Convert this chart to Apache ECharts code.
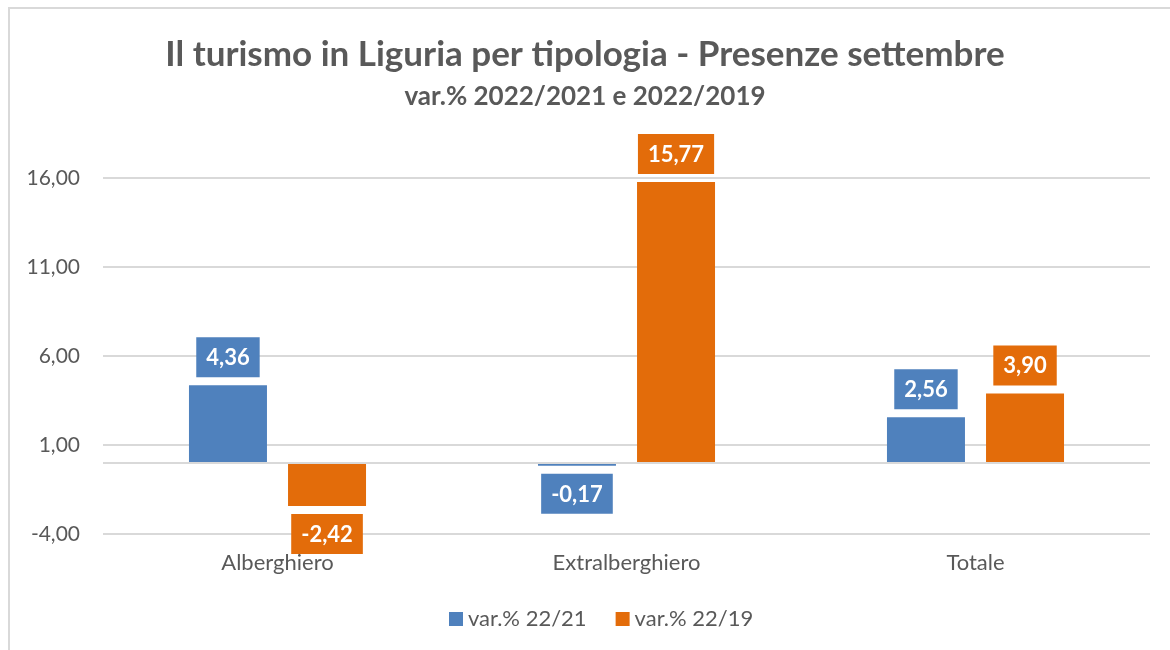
<!DOCTYPE html>
<html>
<head>
<meta charset="utf-8">
<script src="https://cdn.jsdelivr.net/npm/echarts@6/dist/echarts.min.js"></script>
<style>
  html, body { margin: 0; padding: 0; background: #fff; }
  #container { width: 1170px; height: 650px; }
  #frame { position: absolute; left: 8px; top: 7px; width: 1170px; height: 650px;
           border-top: 2px solid #d9d9d9; border-left: 2px solid #d9d9d9; pointer-events: none; }
</style>
</head>
<body>
<div id="container"></div>
<div id="frame"></div>
<script>
var categories = ['Alberghiero', 'Extralberghiero', 'Totale'];
var var2221 = [4.36, -0.17, 2.56];
var var2219 = [-2.42, 15.77, 3.90];
var seriesNames = ['var.% 22/21', 'var.% 22/19'];
var colors = ['#4f81bd', '#e36c0a'];

var FONT = 'Lato, "Open Sans", sans-serif';

function fmt(v) {
    return v.toFixed(2).replace('.', ',');
}

// label sopra per valori positivi, sotto per negativi
function toItems(values) {
    return values.map(function (v) {
        return { value: v, label: { position: v < 0 ? 'bottom' : 'top' } };
    });
}

function makeSeries(idx, values) {
    var s = {
        name: seriesNames[idx],
        type: 'bar',
        data: toItems(values),
        barWidth: 78,
        barGap: '27%',
        itemStyle: { color: colors[idx] },
        label: {
            show: true,
            distance: 8,
            formatter: function (p) { return fmt(p.value); },
            color: '#fff',
            fontFamily: FONT,
            fontWeight: 'bold',
            fontSize: 22,
            backgroundColor: colors[idx],
            padding: [10, 10, 8, 10]
        }
    };
    if (idx === 0) {
        s.markLine = {
            silent: true,
            symbol: 'none',
            label: { show: false },
            lineStyle: { color: '#d9d9d9', width: 2, type: 'solid' },
            data: [{ yAxis: 0 }]
        };
    }
    return s;
}

var myChart = echarts.init(document.getElementById('container'));
var option = {
    animation: false,
    title: {
        text: 'Il turismo in Liguria per tipologia - Presenze settembre',
        subtext: 'var.% 2022/2021 e 2022/2019',
        left: 'center',
        top: 32,
        itemGap: 12,
        textStyle: { fontFamily: FONT, fontWeight: 'bold', fontSize: 35, color: '#595959' },
        subtextStyle: { fontFamily: FONT, fontWeight: 'bold', fontSize: 26, color: '#595959' }
    },
    legend: {
        bottom: 15,
        left: 444,
        itemWidth: 14,
        itemHeight: 14,
        itemGap: 29,
        icon: 'rect',
        textStyle: { fontFamily: FONT, fontSize: 22, color: '#595959', padding: [0, 0, 0, 0] },
        data: seriesNames
    },
    grid: { left: 103, right: 20, top: 178, bottom: 116 },
    xAxis: {
        type: 'category',
        data: categories,
        axisLine: { show: false, onZero: false },
        axisTick: { show: false },
        axisLabel: { fontFamily: FONT, fontSize: 22, color: '#595959', margin: 18 }
    },
    yAxis: {
        type: 'value',
        min: -4,
        max: 16,
        interval: 5,
        axisLine: { show: false },
        axisTick: { show: false },
        splitLine: { lineStyle: { color: '#d9d9d9', width: 2 } },
        axisLabel: {
            fontFamily: FONT, fontSize: 21, color: '#595959', margin: 23,
            formatter: function (v) { return fmt(v); }
        }
    },
    series: [makeSeries(0, var2221), makeSeries(1, var2219)]
};
myChart.setOption(option);
</script>
</body>
</html>
